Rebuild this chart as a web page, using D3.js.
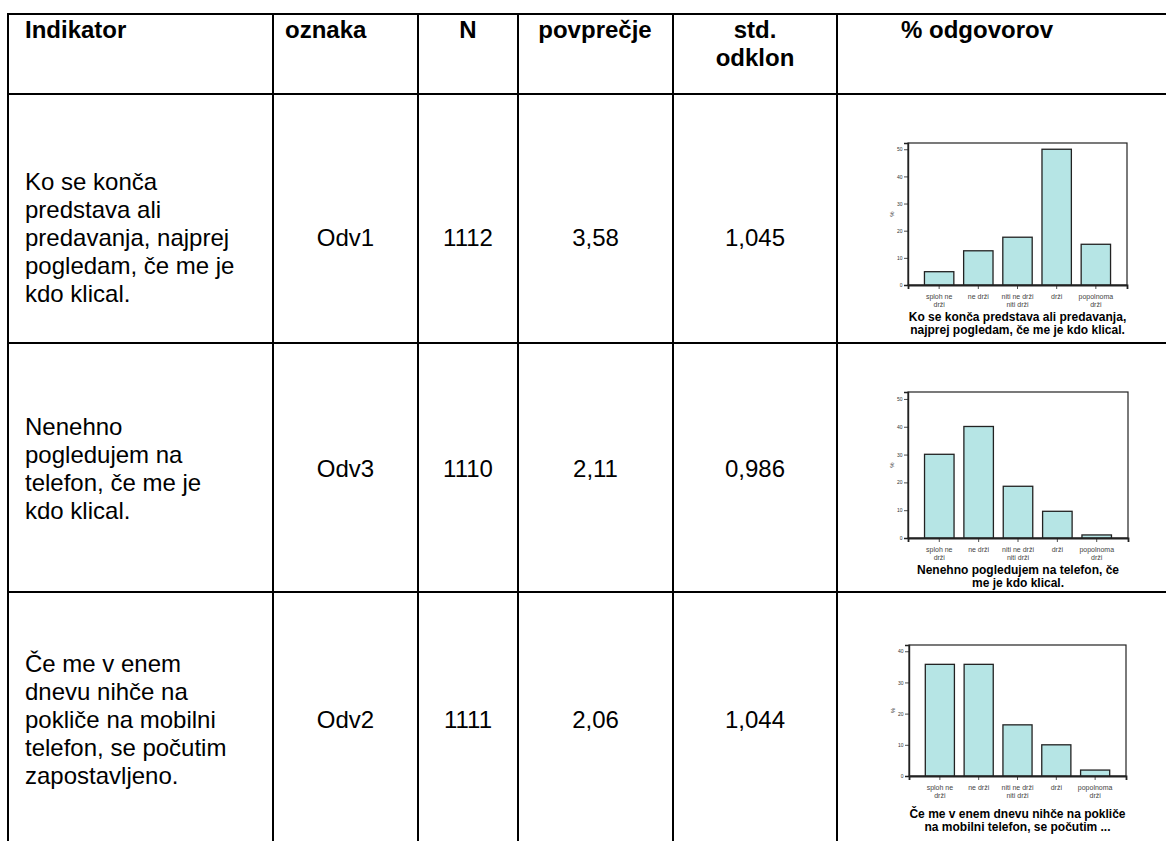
<!DOCTYPE html>
<html>
<head>
<meta charset="utf-8">
<script src="https://cdn.jsdelivr.net/npm/d3@7/dist/d3.min.js"></script>
<style>
  body { margin: 0; background: #fff; }
  svg text { font-family: "Liberation Sans", Arial, sans-serif; }
</style>
</head>
<body>
<svg id="chart"></svg>
<script>
// table contents
var headers = [["Indikator"], ["oznaka"], ["N"], ["povprečje"], ["std.", "odklon"], ["% odgovorov"]];
var indicators = [
  ["Ko se konča", "predstava ali", "predavanja, najprej", "pogledam, če me je", "kdo klical."],
  ["Nenehno", "pogledujem na", "telefon, če me je", "kdo klical."],
  ["Če me v enem", "dnevu nihče na", "pokliče na mobilni", "telefon, se počutim", "zapostavljeno."]
];
var codes = ["Odv1", "Odv3", "Odv2"];
var counts = ["1112", "1110", "1111"];
var means = ["3,58", "2,11", "2,06"];
var stdDevs = ["1,045", "0,986", "1,044"];

// bar chart contents
var categories = [["sploh ne", "drži"], ["ne drži"], ["niti ne drži", "niti drži"], ["drži"], ["popolnoma", "drži"]];
var percentOdv1 = [4.9, 12.6, 17.6, 50.0, 15.0];
var percentOdv3 = [30.1, 40.1, 18.6, 9.6, 1.1];
var percentOdv2 = [35.8, 35.8, 16.4, 10.0, 1.9];
var chartTitles = [
  ["Ko se konča predstava ali predavanja,", "najprej pogledam, če me je kdo klical."],
  ["Nenehno pogledujem na telefon, če", "me je kdo klical."],
  ["Če me v enem dnevu nihče na pokliče", "na mobilni telefon, se počutim ..."]
];
var axisMax = [52.3, 52.5, 42];
var axisTicks = [[0, 10, 20, 30, 40, 50], [0, 10, 20, 30, 40, 50], [0, 10, 20, 30, 40]];

var series = [percentOdv1, percentOdv3, percentOdv2];

// layout
var W = 1166, H = 841;
var colX = [8, 273, 418, 518, 673, 837];
var rowY = [14, 94, 343, 592];
var rowCenter = [238, 469, 720];
var lineH = 28;
var charts = [
  { left: 908, right: 1127, top: 143, bottom: 285, title: 321 },
  { left: 908, right: 1128, top: 392, bottom: 538, title: 574 },
  { left: 909, right: 1126, top: 645, bottom: 776, title: 818 }
];

var svg = d3.select('#chart')
  .attr('width', W)
  .attr('height', H);

// grid lines
var grid = svg.append('g')
  .attr('stroke', '#000')
  .attr('stroke-width', 2);
colX.forEach(function(x) {
  grid.append('line').attr('x1', x).attr('x2', x).attr('y1', rowY[0] - 1).attr('y2', H);
});
rowY.forEach(function(y) {
  grid.append('line').attr('x1', colX[0] - 1).attr('x2', W).attr('y1', y).attr('y2', y);
});

// header
var headX = [25, 285, 468, 595, 755, 977];
var headAnchor = ['start', 'start', 'middle', 'middle', 'middle', 'middle'];
headers.forEach(function(lines, i) {
  var t = svg.append('text')
    .attr('text-anchor', headAnchor[i])
    .style('font-size', '24px')
    .style('font-weight', 'bold');
  lines.forEach(function(s, j) {
    t.append('tspan').attr('x', headX[i]).attr('y', 38 + j * lineH).text(s);
  });
});

// body rows
function cellText(x, cy, lines, anchor) {
  var y0 = cy - (lines.length - 1) * lineH / 2 + 8;
  var t = svg.append('text')
    .attr('text-anchor', anchor)
    .style('font-size', '24px');
  lines.forEach(function(s, j) {
    t.append('tspan').attr('x', x).attr('y', y0 + j * lineH).text(s);
  });
}

indicators.forEach(function(lines, r) {
  var cy = rowCenter[r];
  cellText(25, cy, lines, 'start');
  cellText((colX[1] + colX[2]) / 2, cy, [codes[r]], 'middle');
  cellText((colX[2] + colX[3]) / 2, cy, [counts[r]], 'middle');
  cellText((colX[3] + colX[4]) / 2, cy, [means[r]], 'middle');
  cellText((colX[4] + colX[5]) / 2, cy, [stdDevs[r]], 'middle');
});

// small bar charts
charts.forEach(function(c, r) {
  var data = series[r];
  var g = svg.append('g');

  var xScale = d3.scaleBand()
    .domain(d3.range(categories.length))
    .range([c.left, c.right])
    .paddingInner(0.25)
    .paddingOuter(0.42);
  var yScale = d3.scaleLinear()
    .domain([0, axisMax[r]])
    .range([c.bottom, c.top]);

  // frame
  g.append('rect')
    .attr('x', c.left)
    .attr('y', c.top)
    .attr('width', c.right - c.left)
    .attr('height', c.bottom - c.top)
    .attr('fill', 'none')
    .attr('stroke', '#222')
    .attr('stroke-width', 1.2);

  // bars
  g.selectAll('.bar')
    .data(data)
    .enter().append('rect')
    .attr('class', 'bar')
    .attr('x', function(d, i) { return xScale(i); })
    .attr('y', function(d) { return yScale(d); })
    .attr('width', xScale.bandwidth())
    .attr('height', function(d) { return c.bottom - yScale(d); })
    .attr('fill', '#b6e5e5')
    .attr('stroke', '#222')
    .attr('stroke-width', 1.3);

  // y axis
  var yAxis = g.append('g')
    .attr('transform', 'translate(' + c.left + ',0)')
    .call(d3.axisLeft(yScale).tickValues(axisTicks[r]).tickSize(4).tickPadding(1.5));
  yAxis.select('.domain').attr('stroke', '#222').attr('stroke-width', 1.4);
  yAxis.selectAll('.tick line').attr('stroke', '#222').attr('stroke-width', 0.8);
  yAxis.selectAll('.tick text')
    .style('font-size', '5px')
    .style('font-family', '"Liberation Sans", Arial, sans-serif')
    .attr('fill', '#333');

  // x axis
  var xAxis = g.append('g')
    .attr('transform', 'translate(0,' + c.bottom + ')')
    .call(d3.axisBottom(xScale).tickSize(4).tickFormat(''));
  xAxis.select('.domain').attr('stroke', '#222').attr('stroke-width', 1.8);
  xAxis.selectAll('.tick line').attr('stroke', '#222').attr('stroke-width', 0.8);

  // category labels
  categories.forEach(function(lines, i) {
    var t = g.append('text')
      .attr('text-anchor', 'middle')
      .style('font-size', '7px')
      .attr('fill', '#444');
    lines.forEach(function(s, j) {
      t.append('tspan')
        .attr('x', xScale(i) + xScale.bandwidth() / 2)
        .attr('y', c.bottom + 13.5 + j * 8.5)
        .text(s);
    });
  });

  // % label
  g.append('text')
    .attr('transform', 'translate(' + (c.left - 14) + ',' + ((c.top + c.bottom) / 2) + ') rotate(-90)')
    .attr('text-anchor', 'middle')
    .style('font-size', '6px')
    .attr('fill', '#333')
    .text('%');

  // title under chart
  var tt = g.append('text')
    .attr('text-anchor', 'middle')
    .style('font-size', '12px')
    .style('font-weight', 'bold');
  chartTitles[r].forEach(function(s, j) {
    tt.append('tspan')
      .attr('x', (c.left + c.right) / 2)
      .attr('y', c.title + j * 13)
      .text(s);
  });
});
</script>
</body>
</html>
